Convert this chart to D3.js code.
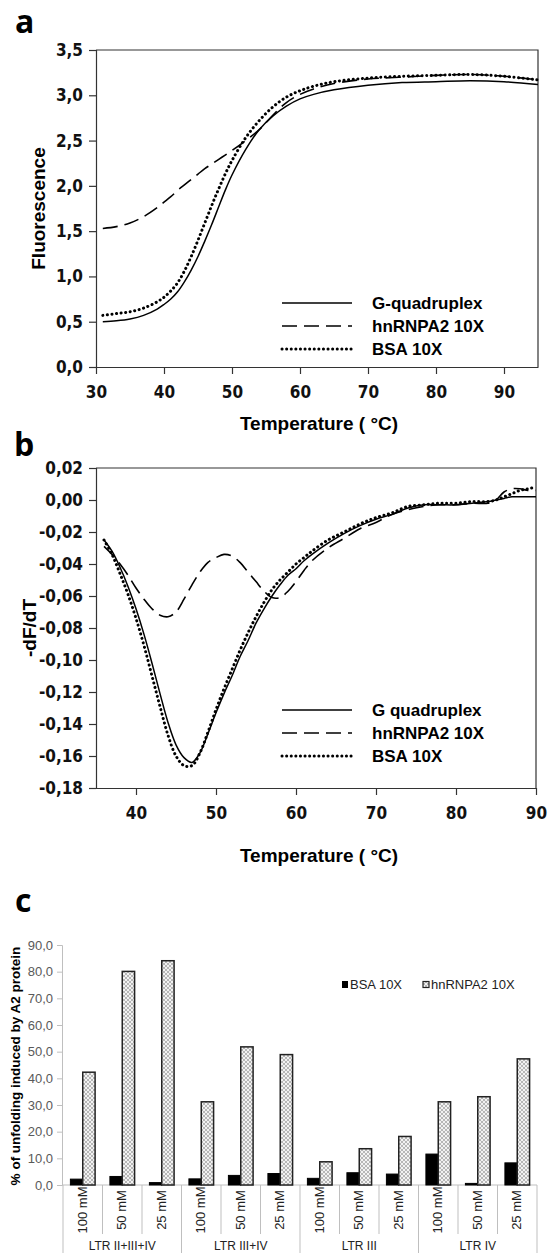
<!DOCTYPE html>
<html>
<head>
<meta charset="utf-8">
<script src="https://cdn.jsdelivr.net/npm/d3@7"></script>
<style>
  body { margin: 0; background: #fff; }
  svg { display: block; }
  .narrow { font-family: "Liberation Sans Narrow", "Arial Narrow", "DejaVu Sans Condensed", "Liberation Sans", sans-serif; font-weight: bold; font-stretch: condensed; }
</style>
</head>
<body>
<div id="chart"></div>
<script>
// ---- panel a : melting curves (Fluorescence vs temperature)
const tempA = [31, 33, 35, 37, 39, 40, 41, 42, 43, 44, 45, 46, 47, 48, 49, 50, 52, 54, 56, 58, 60, 62, 65, 70, 75, 80, 85, 90, 95];
const gquadA = [0.50, 0.51, 0.53, 0.57, 0.64, 0.69, 0.75, 0.83, 0.94, 1.07, 1.22, 1.39, 1.57, 1.76, 1.95, 2.12, 2.40, 2.62, 2.77, 2.88, 2.96, 3.01, 3.06, 3.11, 3.14, 3.15, 3.16, 3.15, 3.12];
const hnA = [1.53, 1.55, 1.59, 1.66, 1.76, 1.82, 1.88, 1.95, 2.01, 2.07, 2.13, 2.19, 2.24, 2.29, 2.34, 2.39, 2.50, 2.62, 2.78, 2.92, 3.01, 3.07, 3.13, 3.18, 3.20, 3.22, 3.23, 3.21, 3.17];
const bsaA = [0.57, 0.59, 0.61, 0.65, 0.72, 0.77, 0.84, 0.93, 1.06, 1.22, 1.40, 1.59, 1.78, 1.96, 2.13, 2.28, 2.53, 2.72, 2.87, 2.98, 3.05, 3.10, 3.15, 3.19, 3.21, 3.22, 3.23, 3.21, 3.17];
const ticksAy = [0, 0.5, 1, 1.5, 2, 2.5, 3, 3.5];
const ticksAx = [30, 40, 50, 60, 70, 80, 90];

// ---- panel b : first derivative
const tempB = [36, 37, 38, 39, 40, 41, 42, 43, 44, 45, 46, 47, 48, 49, 50, 51, 52, 53, 54, 55, 56, 57, 58, 59, 60, 61, 62, 64, 66, 68, 70, 72, 74, 76, 78, 80, 82, 84, 85, 86, 87, 88, 89, 90];
const gquadB = [-0.025, -0.032, -0.042, -0.054, -0.068, -0.084, -0.102, -0.121, -0.139, -0.153, -0.161, -0.164, -0.158, -0.146, -0.133, -0.121, -0.110, -0.098, -0.088, -0.077, -0.068, -0.060, -0.053, -0.047, -0.043, -0.038, -0.034, -0.027, -0.021, -0.016, -0.012, -0.009, -0.005, -0.003, -0.003, -0.003, -0.002, -0.001, 0.000, 0.001, 0.002, 0.002, 0.002, 0.002];
const hnB = [-0.029, -0.034, -0.040, -0.047, -0.055, -0.062, -0.068, -0.072, -0.073, -0.070, -0.062, -0.053, -0.045, -0.039, -0.036, -0.034, -0.035, -0.039, -0.045, -0.051, -0.057, -0.061, -0.061, -0.057, -0.051, -0.044, -0.038, -0.030, -0.024, -0.018, -0.014, -0.009, -0.006, -0.004, -0.003, -0.003, -0.002, -0.002, 0.000, 0.005, 0.007, 0.007, 0.006, 0.006];
const bsaB = [-0.025, -0.034, -0.046, -0.059, -0.074, -0.091, -0.110, -0.129, -0.147, -0.160, -0.166, -0.166, -0.158, -0.145, -0.131, -0.118, -0.106, -0.094, -0.083, -0.073, -0.064, -0.056, -0.050, -0.045, -0.040, -0.036, -0.032, -0.025, -0.020, -0.015, -0.011, -0.008, -0.004, -0.003, -0.002, -0.002, -0.001, -0.001, 0.000, 0.002, 0.004, 0.006, 0.007, 0.008];
const ticksBy = [0.02, 0, -0.02, -0.04, -0.06, -0.08, -0.10, -0.12, -0.14, -0.16, -0.18];
const ticksBx = [40, 50, 60, 70, 80, 90];

// ---- panel c : % of unfolding
const groups = ["LTR II+III+IV", "LTR III+IV", "LTR III", "LTR IV"];
const salts = ["100 mM", "50 mM", "25 mM"];
const bsaC = [2.2, 3.2, 0.9, 2.3, 3.6, 4.3, 2.5, 4.6, 4.1, 11.6, 0.6, 8.3];
const hnC = [42.3, 80.1, 84.1, 31.2, 51.8, 48.9, 8.7, 13.6, 18.2, 31.2, 33.1, 47.3];
const ticksC = [0, 10, 20, 30, 40, 50, 60, 70, 80, 90];

const legendA = ["G-quadruplex", "hnRNPA2 10X", "BSA 10X"];
const legendB = ["G quadruplex", "hnRNPA2 10X", "BSA 10X"];
const legendC = ["BSA 10X", "hnRNPA2 10X"];

const W = 550, H = 1253;
const svg = d3.select('#chart').append('svg').attr('width', W).attr('height', H)
  .style('font-family', '"Liberation Sans", Arial, sans-serif');

const defs = svg.append('defs');
const pat = defs.append('pattern').attr('id', 'hatch').attr('patternUnits', 'userSpaceOnUse')
  .attr('width', 4).attr('height', 4);
pat.append('rect').attr('width', 4).attr('height', 4).attr('fill', '#f2f2f2');
pat.append('path').attr('d', 'M0,0 L4,4 M4,0 L0,4').attr('stroke', '#a8a8a8').attr('stroke-width', 0.8);

const styles = [
  { dash: null, width: 1.5, cap: 'butt' },
  { dash: '15 7', width: 1.6, cap: 'butt' },
  { dash: '0.1 4.5', width: 3, cap: 'round' }
];

function fmt(d, n) { return d.toFixed(n).replace('.', ','); }

// panel label
function panelLabel(t, x, y) {
  svg.append('text').attr('x', x).attr('y', y).text(t)
    .style('font-family', '"Open Sans", sans-serif').style('font-weight', 'bold').style('font-size', '32px');
}

// draws one of the two line panels
function linePanel(cfg) {
  const x = d3.scaleLinear().domain(cfg.xDomain).range([cfg.left, cfg.right]);
  const y = d3.scaleLinear().domain(cfg.yDomain).range([cfg.bottom, cfg.top]);
  const g = svg.append('g');

  // frame (top and right)
  g.append('path')
    .attr('d', `M${cfg.left},${cfg.top} H${cfg.right} V${cfg.bottom}`)
    .attr('fill', 'none').attr('stroke', '#333').attr('stroke-width', 1.2);

  const yAxis = g.append('g').attr('transform', `translate(${cfg.left},0)`)
    .call(d3.axisLeft(y).tickValues(cfg.yTicks).tickSize(7).tickPadding(6).tickFormat(d => fmt(d, cfg.dec)));
  const xAxis = g.append('g').attr('transform', `translate(0,${cfg.bottom})`)
    .call(d3.axisBottom(x).tickValues(cfg.xTicks).tickSize(7).tickPadding(12).tickSizeOuter(0));
  [yAxis, xAxis].forEach(a => {
    a.select('.domain').attr('stroke', '#333').attr('stroke-width', 1.2);
    a.selectAll('.tick line').attr('stroke', '#333').attr('stroke-width', 1.2);
    a.selectAll('text').attr('class', 'narrow').attr('fill', '#111').style('font-size', '17px');
  });

  const line = d3.line().x(d => x(d[0])).y(d => y(d[1])).curve(d3.curveCatmullRom);
  cfg.series.forEach((s, i) => {
    const pts = cfg.temps.map((t, j) => [t, s[j]]);
    g.append('path').datum(pts).attr('d', line).attr('fill', 'none')
      .attr('stroke', '#000').attr('stroke-width', styles[i].width)
      .attr('stroke-dasharray', styles[i].dash).attr('stroke-linecap', styles[i].cap);
  });

  // legend
  cfg.legend.forEach((name, i) => {
    const ly = cfg.legY + i * 23;
    g.append('line').attr('x1', cfg.legX).attr('x2', cfg.legX + 70).attr('y1', ly).attr('y2', ly)
      .attr('stroke', '#000').attr('stroke-width', styles[i].width)
      .attr('stroke-dasharray', styles[i].dash).attr('stroke-linecap', styles[i].cap);
    g.append('text').attr('x', cfg.legX + 90).attr('y', ly + 6).text(name)
      .style('font-weight', 'bold').style('font-size', '17px');
  });

  g.append('text').attr('transform', `translate(${cfg.yTitleX},${(cfg.top + cfg.bottom) / 2}) rotate(-90)`)
    .attr('text-anchor', 'middle').text(cfg.yTitle)
    .style('font-weight', 'bold').style('font-size', '19px');
  g.append('text').attr('x', 319).attr('y', cfg.xTitleY).attr('text-anchor', 'middle')
    .text('Temperature ( °C)').style('font-weight', 'bold').style('font-size', '19px');
}

panelLabel('a', 15, 33);
linePanel({
  xDomain: [30, 95], yDomain: [0, 3.5], left: 96, right: 538, top: 50, bottom: 367,
  yTicks: ticksAy, xTicks: ticksAx, dec: 1, temps: tempA, series: [gquadA, hnA, bsaA],
  legend: legendA, legX: 282, legY: 303, yTitle: 'Fluorescence', yTitleX: 45, xTitleY: 430
});

panelLabel('b', 14, 456);
linePanel({
  xDomain: [35, 90], yDomain: [-0.18, 0.02], left: 96, right: 536, top: 468, bottom: 788,
  yTicks: ticksBy, xTicks: ticksBx, dec: 2, temps: tempB, series: [gquadB, hnB, bsaB],
  legend: legendB, legX: 282, legY: 710, yTitle: '-dF/dT', yTitleX: 36, xTitleY: 862
});

// ---- panel c
panelLabel('c', 15, 912);
const cats = d3.range(12);
const xC = d3.scaleBand().domain(cats).range([63, 537]);
const xIn = d3.scaleBand().domain(['bsa', 'hn']).range([0, xC.bandwidth()]).paddingOuter(0.6);
const yC = d3.scaleLinear().domain([0, 90]).range([1185, 945]);
const gc = svg.append('g');

const yAx = gc.append('g').attr('transform', 'translate(62,0)')
  .call(d3.axisLeft(yC).tickValues(ticksC).tickSize(5).tickPadding(4).tickFormat(d => fmt(d, 1)));
yAx.select('.domain').attr('stroke', '#bfbfbf');
yAx.selectAll('.tick line').attr('stroke', '#bfbfbf');
yAx.selectAll('text').attr('fill', '#595959').style('font-size', '13px');

// category axis: baseline + separators
gc.append('line').attr('x1', 62).attr('x2', 537).attr('y1', 1185).attr('y2', 1185).attr('stroke', '#bfbfbf');
cats.concat([12]).forEach(i => {
  const xx = i < 12 ? xC(i) : 537;
  gc.append('line').attr('x1', xx).attr('x2', xx).attr('y1', 1185).attr('y2', i % 3 === 0 ? H : 1234)
    .attr('stroke', '#bfbfbf');
});

gc.selectAll('.bsa').data(bsaC).join('rect').attr('class', 'bsa')
  .attr('x', (d, i) => xC(i) + xIn('bsa')).attr('width', xIn.bandwidth())
  .attr('y', d => yC(d)).attr('height', d => yC(0) - yC(d))
  .attr('fill', '#000').attr('stroke', '#000').attr('stroke-width', 1);
gc.selectAll('.hn').data(hnC).join('rect').attr('class', 'hn')
  .attr('x', (d, i) => xC(i) + xIn('hn')).attr('width', xIn.bandwidth())
  .attr('y', d => yC(d)).attr('height', d => yC(0) - yC(d))
  .attr('fill', 'url(#hatch)').attr('stroke', '#222').attr('stroke-width', 1.5);

cats.forEach(i => {
  const cx = xC(i) + xC.bandwidth() / 2;
  gc.append('text').attr('transform', `translate(${cx + 4},1210) rotate(-90)`)
    .attr('text-anchor', 'middle').text(salts[i % 3]).attr('fill', '#222').style('font-size', '13px');
});
groups.forEach((gname, k) => {
  const cx = xC(k * 3) + xC.bandwidth() * 1.5;
  gc.append('text').attr('x', cx).attr('y', 1250).attr('text-anchor', 'middle').text(gname)
    .attr('fill', '#222').style('font-size', '12px');
});

// legend c
gc.append('rect').attr('x', 342).attr('y', 981).attr('width', 6).attr('height', 7).attr('fill', '#000');
gc.append('text').attr('x', 350).attr('y', 989).text(legendC[0]).attr('fill', '#222').style('font-size', '13px');
gc.append('rect').attr('x', 423).attr('y', 981.5).attr('width', 6).attr('height', 6)
  .attr('fill', 'url(#hatch)').attr('stroke', '#222').attr('stroke-width', 1.2);
gc.append('text').attr('x', 431).attr('y', 989).text(legendC[1]).attr('fill', '#222').style('font-size', '13px');

gc.append('text').attr('transform', 'translate(20,1066) rotate(-90)').attr('text-anchor', 'middle')
  .text('% of unfolding induced by A2 protein').style('font-weight', 'bold').style('font-size', '13.5px');
</script>
</body>
</html>
